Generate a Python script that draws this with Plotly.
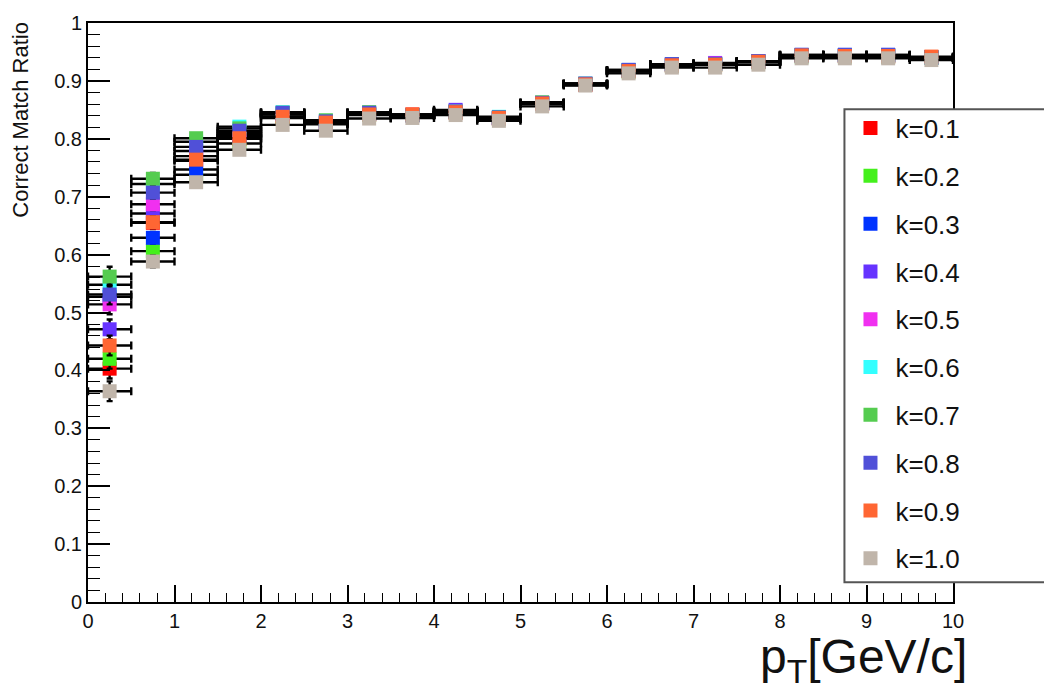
import plotly.graph_objects as go

# pT bin centres (GeV/c), bins of width 0.5
pt_centres = [0.25, 0.75, 1.25, 1.75, 2.25, 2.75, 3.25, 3.75, 4.25, 4.75,
              5.25, 5.75, 6.25, 6.75, 7.25, 7.75, 8.25, 8.75, 9.25, 9.75]
pt_halfwidth = [0.25] * 20

# statistical uncertainty on the ratio in each bin
ratio_err = [0.017, 0.010, 0.007, 0.006, 0.005, 0.004, 0.004, 0.004, 0.004, 0.004,
             0.004, 0.004, 0.003, 0.003, 0.003, 0.003, 0.003, 0.003, 0.003, 0.003]

k_labels = ["k=0.1", "k=0.2", "k=0.3", "k=0.4", "k=0.5",
            "k=0.6", "k=0.7", "k=0.8", "k=0.9", "k=1.0"]

ratio_k01 = [0.403, 0.655, 0.762, 0.800, 0.838, 0.826, 0.842, 0.842, 0.845, 0.835,
             0.860, 0.893, 0.917, 0.927, 0.928, 0.934, 0.944, 0.943, 0.942, 0.941]
ratio_k02 = [0.420, 0.606, 0.738, 0.792, 0.836, 0.825, 0.841, 0.840, 0.846, 0.834,
             0.861, 0.894, 0.916, 0.926, 0.928, 0.932, 0.942, 0.942, 0.942, 0.940]
ratio_k03 = [0.527, 0.629, 0.747, 0.805, 0.843, 0.827, 0.843, 0.841, 0.847, 0.836,
             0.862, 0.895, 0.919, 0.929, 0.929, 0.934, 0.945, 0.945, 0.945, 0.940]
ratio_k04 = [0.471, 0.671, 0.779, 0.810, 0.844, 0.828, 0.844, 0.841, 0.850, 0.836,
             0.862, 0.895, 0.918, 0.928, 0.931, 0.933, 0.944, 0.944, 0.944, 0.940]
ratio_k05 = [0.514, 0.687, 0.770, 0.808, 0.842, 0.828, 0.843, 0.840, 0.848, 0.835,
             0.861, 0.894, 0.917, 0.927, 0.930, 0.933, 0.943, 0.943, 0.943, 0.940]
ratio_k06 = [0.548, 0.722, 0.795, 0.821, 0.846, 0.831, 0.845, 0.841, 0.847, 0.838,
             0.862, 0.895, 0.918, 0.928, 0.929, 0.933, 0.944, 0.944, 0.944, 0.940]
ratio_k07 = [0.562, 0.731, 0.801, 0.818, 0.845, 0.832, 0.846, 0.841, 0.847, 0.837,
             0.863, 0.895, 0.918, 0.928, 0.929, 0.933, 0.944, 0.944, 0.944, 0.940]
ratio_k08 = [0.531, 0.707, 0.786, 0.814, 0.845, 0.830, 0.845, 0.841, 0.847, 0.837,
             0.862, 0.895, 0.919, 0.929, 0.929, 0.934, 0.945, 0.945, 0.945, 0.941]
ratio_k09 = [0.443, 0.656, 0.764, 0.801, 0.838, 0.828, 0.842, 0.842, 0.846, 0.836,
             0.861, 0.894, 0.917, 0.927, 0.928, 0.933, 0.944, 0.943, 0.943, 0.942]
ratio_k10 = [0.364, 0.588, 0.725, 0.781, 0.824, 0.814, 0.835, 0.836, 0.841, 0.831,
             0.856, 0.892, 0.913, 0.923, 0.923, 0.928, 0.939, 0.939, 0.939, 0.936]

series = [ratio_k01, ratio_k02, ratio_k03, ratio_k04, ratio_k05,
          ratio_k06, ratio_k07, ratio_k08, ratio_k09, ratio_k10]
colors = ["#ff0000", "#44f01c", "#0033ff", "#6633ff", "#f030f0",
          "#33ffff", "#55cc50", "#5050d8", "#ff6633", "#c0b5aa"]

FONT = "Liberation Sans, Arial, Helvetica, sans-serif"

fig = go.Figure()
for name, vals, col in zip(k_labels, series, colors):
    fig.add_trace(go.Scatter(
        x=pt_centres, y=vals, name=name, mode="markers",
        legendgroup=name,
        marker=dict(symbol="square", size=14, color=col, line=dict(width=0)),
        error_x=dict(type="data", array=pt_halfwidth, color="black",
                     thickness=2.4, width=4),
        error_y=dict(type="data", array=ratio_err, color="black",
                     thickness=2.4, width=3),
    ))

# legend frame (white box overlapping the right edge of the plot frame)
fig.add_shape(type="rect", xref="paper", yref="paper",
              x0=0.8745, x1=1.14, y0=0.034, y1=0.851,
              line=dict(color="#555555", width=2), fillcolor="white",
              layer="above")

# axis titles
fig.add_annotation(text="Correct Match Ratio", xref="paper", yref="paper",
                   x=-0.078, y=1.005, xanchor="center", yanchor="top",
                   textangle=-90, showarrow=False,
                   font=dict(family=FONT, size=22, color="#111111"))
fig.add_annotation(text="p<sub>T</sub>[GeV/c]", xref="paper", yref="paper",
                   x=1.018, y=-0.045, xanchor="right", yanchor="top",
                   showarrow=False,
                   font=dict(family=FONT, size=48, color="#111111"))

fig.update_layout(
    width=1044, height=691,
    margin=dict(l=88, r=91, t=15, b=89),
    paper_bgcolor="white", plot_bgcolor="white",
    font=dict(family=FONT, color="#111111"),
    legend=dict(x=0.8757, y=0.859, xanchor="left", yanchor="top",
                bgcolor="rgba(0,0,0,0)", borderwidth=0,
                font=dict(family=FONT, size=26, color="#111111"),
                tracegroupgap=11, itemwidth=40),
    xaxis=dict(range=[0, 10], showgrid=False, zeroline=False,
               showline=True, linecolor="black", linewidth=2, mirror=True,
               ticks="inside", ticklen=17, tickcolor="black", tickwidth=1.5,
               dtick=1, tick0=0, tickfont=dict(family=FONT, size=20),
               minor=dict(dtick=0.2, ticks="inside", ticklen=9,
                          tickcolor="black", tickwidth=1.2, showgrid=False)),
    yaxis=dict(range=[0, 1], showgrid=False, zeroline=False,
               showline=True, linecolor="black", linewidth=2, mirror=True,
               ticks="inside", ticklen=22, tickcolor="black", tickwidth=1.5,
               tickfont=dict(family=FONT, size=20),
               tickvals=[0, 0.1, 0.2, 0.3, 0.4, 0.5, 0.6, 0.7, 0.8, 0.9, 1.0],
               ticktext=["0", "0.1", "0.2", "0.3", "0.4", "0.5",
                         "0.6", "0.7", "0.8", "0.9", "1"],
               minor=dict(dtick=0.02, ticks="inside", ticklen=12,
                          tickcolor="black", tickwidth=1.2, showgrid=False)),
)

fig.write_html("out.html")
